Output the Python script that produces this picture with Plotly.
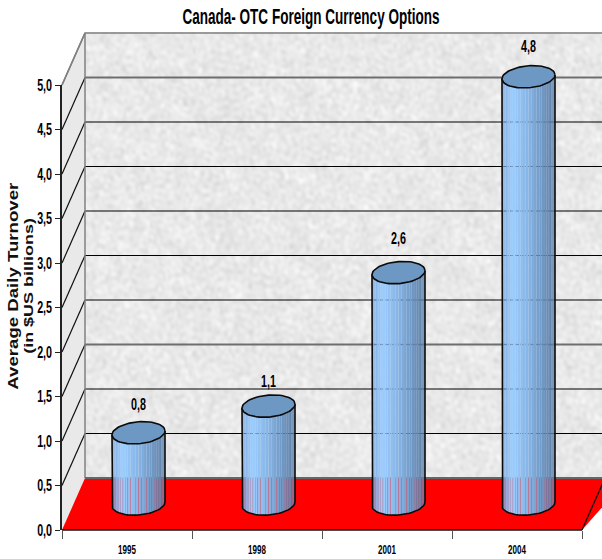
import base64, math, struct, zlib
import numpy as np
import plotly.graph_objects as go

# ---- data
years = ["1995", "1998", "2001", "2004"]
values = [0.8, 1.1, 2.6, 4.8]
y_ticks = [0.0, 0.5, 1.0, 1.5, 2.0, 2.5, 3.0, 3.5, 4.0, 4.5, 5.0]
title_text = "Canada- OTC Foreign Currency Options"
y_title_lines = ["Average Daily Turnover", "(in $US billions)"]

# ---- page geometry
W, H = 602, 559
L, R, T, B = 62, 20, 85, 29
PX = 4 / (W - L - R)      # data units per pixel, x
PY = 5 / (H - T - B)      # data units per pixel, y
DX, DY = 23 * PX, 52 * PY  # depth offset of back wall
FONT = "Liberation Sans, Arial, sans-serif"
label_gap = [27, 23, 33, 29]


def png_uri(arr):
    h, w = arr.shape
    raw = b"".join(b"\x00" + arr[i].tobytes() for i in range(h))

    def chunk(t, d):
        return struct.pack(">I", len(d)) + t + d + struct.pack(">I", zlib.crc32(t + d))

    data = (b"\x89PNG\r\n\x1a\n" + chunk(b"IHDR", struct.pack(">IIBBBBB", w, h, 8, 0, 0, 0, 0))
            + chunk(b"IDAT", zlib.compress(raw)) + chunk(b"IEND", b""))
    return "data:image/png;base64," + base64.b64encode(data).decode()


# mottled marble wall, made from layered sines
yy, xx = np.mgrid[0:446, 0:520].astype(float)
tex = np.zeros_like(xx)
for k in range(1, 70):
    fx = 0.05 * k ** 0.7 * math.cos(k * 2.399)
    fy = 0.05 * k ** 0.7 * math.sin(k * 2.399)
    tex += np.sin(xx * fx + yy * fy + k * 1.7 + 2.2 * np.sin(xx * 0.03 * (k % 5 + 1) - yy * 0.037)) / k ** 0.2
tex = 233 + 4 * tex / tex.std()
wall_png = png_uri(np.clip(tex, 216, 248).astype(np.uint8))

fig = go.Figure()


def poly(xs, ys, fill, line=None, width=0):
    fig.add_trace(go.Scatter(x=xs, y=ys, mode="lines", fill="toself", fillcolor=fill,
                             line=dict(color=line or fill, width=width if line else 0),
                             hoverinfo="skip", showlegend=False))


def lines(xs, ys, color, width, dash="solid"):
    fig.add_trace(go.Scatter(x=xs, y=ys, mode="lines", line=dict(color=color, width=width, dash=dash),
                             hoverinfo="skip", showlegend=False))


x_end = 4 + 21 * PX
y_top = y_ticks[-1]

# left side wall
poly([0, DX, DX, 0, 0], [0, DY, y_top + DY, y_top, 0], "#e9e9e9")

# grid lines over side and back wall
for v in y_ticks[1:-1]:
    heavy = v in (1.5, 4.5)
    color = "#6e6e6e" if heavy else "#000000"
    w = 2 if heavy else 1.1
    lines([DX, x_end + DX], [v + DY, v + DY], color, w)
    lines([0, DX], [v, v + DY], "#111111", 1.2)
lines([0, DX], [y_top, y_top + DY], "#777777", 1.5)
lines([0, DX, x_end + DX], [y_top, y_top + DY, y_top + DY], "#808080", 1.5)
lines([DX, DX], [DY, y_top + DY], "#808080", 1.5)

# floor
poly([0, DX, 4 + 2 * DX, 4, 0], [0, DY, DY, 0, 0], "#ff0000")
lines([DX, 4 + 2 * DX], [DY, DY], "#666666", 2.2)
lines([4, 4 + DX], [0, DY], "#111111", 1.3)
lines([0, 4], [0, 0], "#111111", 1.5)

# cylinders
A, E, S = 26.5 * PX, 11 * PY, 2 * PY
stops = [(0, (122, 163, 212)), (.08, (140, 186, 238)), (.2, (155, 205, 255)),
         (.5, (134, 180, 228)), (.75, (112, 153, 198)), (1, (92, 126, 166))]


def shade(u):
    for (a, ca), (b, cb) in zip(stops, stops[1:]):
        if u <= b:
            f = (u - a) / (b - a)
            return "rgb(%d,%d,%d)" % tuple(round(p + (q - p) * f) for p, q in zip(ca, cb))
    return "rgb(92,126,166)"


N = 30
for i, v in enumerate(values):
    cx = i + 0.5 + DX / 2
    cy = DY / 2
    top = cy + v
    ts = [math.pi + math.pi * j / N for j in range(N + 1)]
    ex = [cx + A * math.cos(t) for t in ts]
    el = [E * math.sin(t) + S * math.cos(t) for t in ts]
    for j in range(N):
        u = ((ex[j] + ex[j + 1]) / 2 - (cx - A)) / (2 * A)
        poly([ex[j], ex[j + 1], ex[j + 1], ex[j], ex[j]],
             [cy + el[j], cy + el[j + 1], top + el[j + 1], top + el[j], cy + el[j]], shade(u))
    # floor showing through the seams
    sx, sy = [], []
    for j in range(3, N - 1):
        if j % 3 == 0 or j % 5 == 1:
            sx += [ex[j], ex[j], None]
            sy += [cy + el[j], DY, None]
    lines(sx, sy, "rgba(215,100,125,0.5)", 0.8)
    # back grid showing through
    gx, gy = [], []
    for g in y_ticks[1:-1]:
        if DY + g < top - E:
            gx += [cx - A + 2 * PX, cx - 5 * PX, None, cx + 2 * PX, cx + A - 2 * PX, None]
            gy += [g + DY, g + DY, None, g + DY, g + DY, None]
    lines(gx, gy, "rgba(70,90,120,0.4)", 1, "dot")
    # outline
    lines([ex[0]] + ex + [ex[-1]], [top + el[0]] + [cy + e for e in el] + [top + el[-1]], "#0a0a0a", 1.6)
    # cap
    tc = [2 * math.pi * j / 72 for j in range(73)]
    poly([cx + A * math.cos(t) for t in tc], [top + E * math.sin(t) + S * math.cos(t) for t in tc],
         "#6d98c3", "#0a0a0a", 1.6)

# value labels
fig.add_trace(go.Scatter(
    x=[i + 0.5 + DX / 2 for i in range(len(values))],
    y=[v + DY / 2 + g * PY for v, g in zip(values, label_gap)],
    text=[f"{v:.1f}".replace(".", ",") for v in values],
    mode="text", textposition="middle center", cliponaxis=False, hoverinfo="skip", showlegend=False,
    textfont=dict(family=FONT, size=16, color="#000000", weight="bold")))

# values on the visible front axes (keeps those axes alive; the scene above shows the marks)
fig.add_trace(go.Scatter(
    x=[i + 0.5 for i in range(len(values))], y=values, xaxis="x2", yaxis="y2", mode="markers",
    marker=dict(opacity=0, size=1), hoverinfo="skip", showlegend=False))

fig.update_layout(
    width=W, height=H, margin=dict(l=0, r=0, t=0, b=0, pad=0, autoexpand=False),
    paper_bgcolor="white", plot_bgcolor="rgba(0,0,0,0)", separators=",.", showlegend=False,
    title=dict(text=title_text, x=311 / W, y=1 - 16.5 / H, xanchor="center", yanchor="middle",
               xref="container", yref="container",
               font=dict(family=FONT, size=22, color="#000000", weight="bold")),
    images=[dict(source=wall_png, xref="paper", yref="paper", x=85 / W, y=1 - 32 / H,
                 sizex=520 / W, sizey=446 / H,
                 xanchor="left", yanchor="top", sizing="stretch", layer="below")],
    annotations=[dict(text="<b>" + line + "</b>", xref="paper", yref="paper",
                      x=px / W, y=1 - 286 / H, xanchor="center", yanchor="middle", textangle=-90,
                      showarrow=False, align="center",
                      font=dict(family=FONT, size=size, color="#111111"))
                 for line, px, size in zip(y_title_lines, (13, 28), (14, 13.5))],
    # full-page scale used by the 3-D scene
    xaxis=dict(range=[-L * PX, (W - L) * PX], domain=[0, 1], visible=False, fixedrange=True),
    yaxis=dict(range=[-B * PY, (H - B) * PY], domain=[0, 1], visible=False, fixedrange=True),
    # visible front axes, same scale
    xaxis2=dict(range=[0, 4], domain=[L / W, (W - R) / W], anchor="y2", showgrid=False, zeroline=False,
                showline=False, tickmode="array",
                tickvals=[i + 0.5 for i in range(len(years))], ticktext=years, ticks="outside", ticklen=9,
                tickcolor="rgba(0,0,0,0)",
                tickfont=dict(family=FONT, size=12, color="#000000", weight="bold"),
                minor=dict(tickmode="array", tickvals=list(range(len(years) + 1)), ticks="outside", ticklen=8,
                           tickcolor="#555555", tickwidth=1.2, showgrid=False)),
    yaxis2=dict(range=[0, 5], domain=[B / H, (H - T) / H], anchor="x2", showgrid=False, zeroline=False,
                showline=True, linecolor="#222222", linewidth=1.5,
                tickmode="array", tickvals=y_ticks, tickformat=".1f", ticks="outside", ticklen=5, tickwidth=1.2,
                tickcolor="#222222", tickfont=dict(family=FONT, size=16, color="#000000", weight="bold")),
)

# the original lettering is condensed (title, ticks, labels) or stretched (axis title):
# fit the real text nodes to those widths
squeeze = """
document.body.style.margin='0';document.body.style.overflow='hidden';
document.querySelectorAll('svg.main-svg text').forEach(function(t){
  var n=t.getComputedTextLength();
  var k=t.closest('.annotation')?1.33:(t.closest('.gtitle')||t.classList.contains('gtitle')?0.615:0.67);
  if(n>0){t.setAttribute('textLength',(n*k).toFixed(1));t.setAttribute('lengthAdjust','spacingAndGlyphs');}
});
"""
fig.write_html("out.html", post_script=squeeze, config={"displayModeBar": False})
